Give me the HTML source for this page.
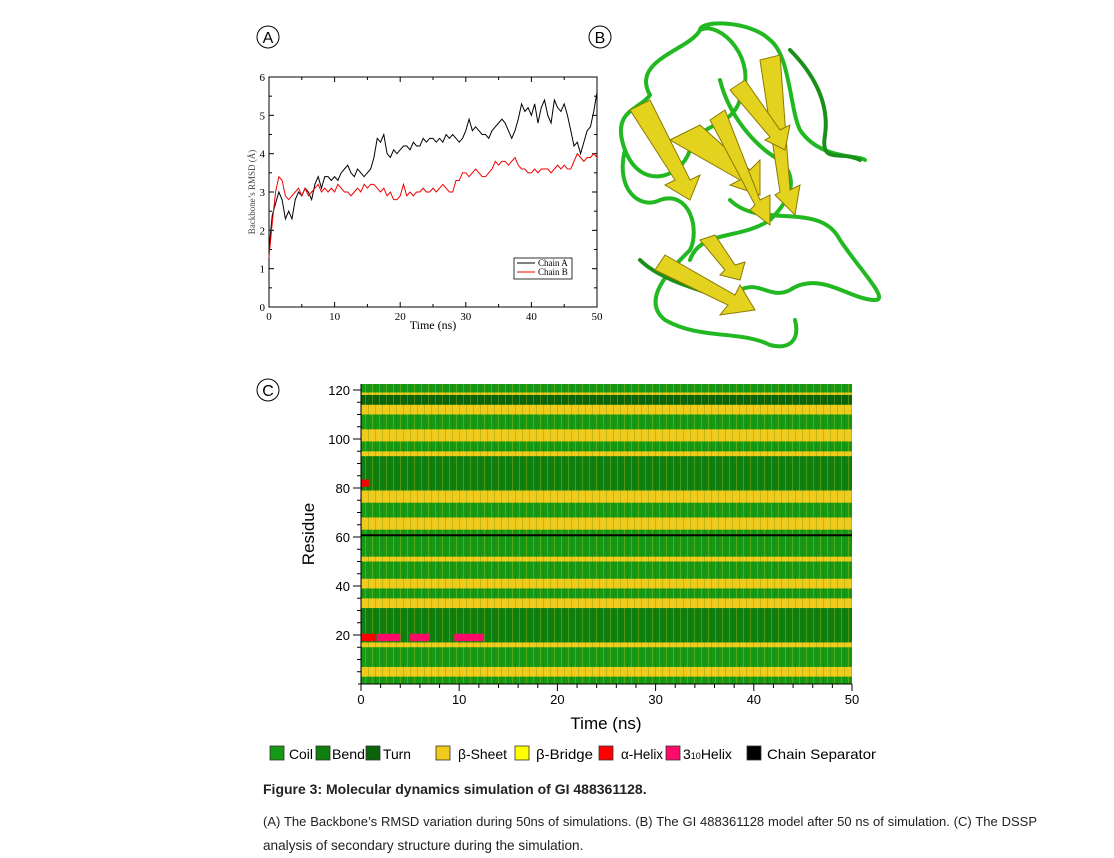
<!DOCTYPE html>
<html><head><meta charset="utf-8">
<style>
body{margin:0;background:#fff;width:1114px;height:856px;overflow:hidden;font-family:"Liberation Sans",Arial,sans-serif;}
svg{position:absolute;left:0;top:0}
.cap{position:absolute;left:263px;font-size:14px;color:#222}
</style></head><body>
<svg width="1114" height="856">
<defs>
<pattern id="tex" width="7" height="5" patternUnits="userSpaceOnUse">
<rect x="1" y="0" width="1" height="5" fill="#e8d020" opacity="0.3"/>
<rect x="4" y="0" width="1" height="5" fill="#0a6a0a" opacity="0.2"/>
</pattern>
</defs>
<g id="labels">
<circle cx="268" cy="37" r="11" fill="#fff" stroke="#000"/><text x="268" y="43" font-size="16" text-anchor="middle">A</text>
<circle cx="600" cy="37" r="11" fill="#fff" stroke="#000"/><text x="600" y="43" font-size="16" text-anchor="middle">B</text>
<circle cx="268" cy="390" r="11" fill="#fff" stroke="#000"/><text x="268" y="396" font-size="16" text-anchor="middle">C</text>
</g>
<g id="chartA"></g>
<g id="protein" fill="none" stroke-linecap="round" stroke-linejoin="round">
<path d="M650 95 C630 60 690 50 700 30 C720 20 760 60 740 100 C730 130 700 120 690 150 C680 180 640 190 625 150 C610 110 640 110 650 95" stroke="#22b822" stroke-width="4"/>
<path d="M700 30 C700 20 750 20 770 40 C790 55 790 110 800 130 C820 160 860 155 865 160" stroke="#22b822" stroke-width="4"/>
<path d="M625 150 C615 190 640 210 660 200 C690 190 700 230 690 250 C670 270 640 300 665 320 C700 340 740 330 770 345 C790 350 800 340 795 320" stroke="#22b822" stroke-width="4"/>
<path d="M730 200 C760 230 820 200 840 240 C860 270 890 300 875 300 C850 300 820 270 790 290 C770 300 760 280 740 290" stroke="#22b822" stroke-width="4"/>
<path d="M720 80 C730 120 760 150 780 160 C800 180 790 200 770 220 C740 240 700 230 690 260" stroke="#22b822" stroke-width="4"/>
<path d="M860 160 C840 150 820 165 825 135 C830 100 810 70 790 50" stroke="#1a8f1a" stroke-width="4"/>
<path d="M640 260 C660 280 700 290 730 300" stroke="#1a8f1a" stroke-width="4"/>
</g>
<g fill="#e3d21e" stroke="#8a7a00" stroke-width="1">
<polygon points="630,110 650,100 690,180 700,175 690,200 665,185 675,180"/>
<polygon points="670,140 700,125 750,170 760,160 760,195 730,185 740,180"/>
<polygon points="710,120 725,110 760,200 770,195 770,225 750,210 755,205"/>
<polygon points="760,60 780,55 790,190 800,185 795,215 775,195 780,192"/>
<polygon points="730,90 745,80 780,130 790,125 785,150 765,140 770,137"/>
<polygon points="655,270 665,255 735,295 740,285 755,310 720,315 728,305"/>
<polygon points="700,240 715,235 735,265 745,262 740,280 720,275 725,270"/>
</g>
<g id="chartC"></g>
<g id="legend" font-size="14"></g>
</svg>
<div class="cap" style="top:781px;font-weight:bold">Figure 3: Molecular dynamics simulation of GI 488361128.</div>
<div class="cap" style="top:810px;width:774px;text-align:justify;text-align-last:justify;line-height:24px;font-size:13px;white-space:nowrap">(A) The Backbone’s RMSD variation during 50ns of simulations. (B) The GI 488361128 model after 50 ns of simulation. (C) The DSSP</div>
<div class="cap" style="top:834px;line-height:24px;font-size:13.6px">analysis of secondary structure during the simulation.</div>
<script>
const NS="http://www.w3.org/2000/svg";
const rmsdA=[1.5,2.4,2.7,3.0,2.8,2.3,2.5,2.3,2.8,3.0,2.9,3.1,3.0,2.8,3.2,3.4,3.1,3.4,3.4,3.3,3.4,3.3,3.5,3.6,3.7,3.5,3.4,3.6,3.5,3.4,3.5,3.6,3.9,4.4,4.3,4.5,4.0,3.9,4.1,4.0,4.1,4.2,4.2,4.1,4.3,4.2,4.2,4.4,4.3,4.4,4.4,4.3,4.4,4.3,4.5,4.4,4.5,4.4,4.3,4.4,4.6,4.9,4.6,4.7,4.6,4.5,4.5,4.4,4.6,4.7,4.8,4.9,4.8,4.6,4.4,4.6,4.9,5.3,5.1,5.2,5.0,5.3,4.8,5.2,5.4,5.0,4.8,5.4,5.2,5.1,5.3,5.0,4.6,4.2,4.3,4.0,4.3,4.6,4.7,5.1,5.6];
const rmsdB=[1.3,2.2,3.0,3.4,3.3,2.9,2.8,2.9,3.0,3.1,2.9,3.1,2.9,3.0,3.1,3.2,3.0,3.1,3.0,3.1,3.0,3.2,3.1,3.0,3.0,2.9,3.0,3.1,3.0,3.2,3.1,3.2,3.2,3.1,3.0,3.1,2.9,3.0,2.8,2.8,2.9,3.2,2.9,3.0,2.9,3.0,3.0,3.1,3.0,3.0,3.1,3.0,3.1,3.2,3.1,3.0,3.0,3.3,3.3,3.5,3.5,3.4,3.5,3.6,3.5,3.4,3.4,3.5,3.6,3.8,3.7,3.8,3.8,3.7,3.8,3.9,3.7,3.6,3.6,3.5,3.5,3.6,3.5,3.6,3.6,3.6,3.5,3.6,3.7,3.6,3.7,3.6,3.6,3.8,4.0,3.9,3.8,3.9,3.9,4.0,3.9];
const xTicksA=[0,10,20,30,40,50];
const yTicksA=[0,1,2,3,4,5,6];
function el(p,tag,attrs){const e=document.createElementNS(NS,tag);for(const k in attrs)e.setAttribute(k,attrs[k]);p.appendChild(e);return e;}
const A=document.getElementById('chartA');
const axL=269,axR=597,axT=77,axB=307;
const xA=t=>axL+t/50*(axR-axL), yA=v=>axB-v/6*(axB-axT);
let f=el(A,'rect',{x:axL,y:axT,width:axR-axL,height:axB-axT,fill:'none',stroke:'#000','stroke-width':1});


xTicksA.forEach(t=>{el(A,'line',{x1:xA(t),x2:xA(t),y1:axB,y2:axB-5,stroke:'#000'});el(A,'line',{x1:xA(t),x2:xA(t),y1:axT,y2:axT+5,stroke:'#000'});
 const tx=el(A,'text',{x:xA(t),y:axB+13,'font-size':11,'text-anchor':'middle','font-family':'Liberation Serif'});tx.textContent=t;
 
 });
for(let t=5;t<50;t+=10){el(A,'line',{x1:xA(t),x2:xA(t),y1:axB,y2:axB-3,stroke:'#000'});el(A,'line',{x1:xA(t),x2:xA(t),y1:axT,y2:axT+3,stroke:'#000'});}
yTicksA.forEach(v=>{el(A,'line',{x1:axL,x2:axL+5,y1:yA(v),y2:yA(v),stroke:'#000'});el(A,'line',{x1:axR,x2:axR-5,y1:yA(v),y2:yA(v),stroke:'#000'});
 const tx=el(A,'text',{x:axL-4,y:yA(v)+4,'font-size':11,'text-anchor':'end','font-family':'Liberation Serif'});tx.textContent=v;
 
 
 if(v<6){el(A,'line',{x1:axL,x2:axL+3,y1:yA(v+0.5),y2:yA(v+0.5),stroke:'#000'});el(A,'line',{x1:axR,x2:axR-3,y1:yA(v+0.5),y2:yA(v+0.5),stroke:'#000'});}});
let xt=el(A,'text',{x:433,y:329,'font-size':12,'text-anchor':'middle','font-family':'Liberation Serif'});xt.textContent='Time (ns)';


let yt=el(A,'text',{x:0,y:0,'font-size':9,'text-anchor':'middle','font-family':'Liberation Serif',transform:'translate(255,192) rotate(-90)',fill:'#444'});yt.textContent='Backbone’s RMSD (Å)';


[[rmsdA,'#000','series-chain-a'],[rmsdB,'#e00','series-chain-b']].forEach(([d,c,n])=>{
 const p=el(A,'polyline',{points:d.map((v,i)=>xA(i*0.5)+','+yA(v)).join(' '),fill:'none',stroke:c,'stroke-width':1});
 
 });
let lg=el(A,'rect',{x:514,y:258,width:58,height:21,fill:'#fff',stroke:'#000','stroke-width':0.8});


[['Chain A','#000',266],['Chain B','#e00',275]].forEach(([t,c,y])=>{el(A,'line',{x1:517,x2:535,y1:y-3,y2:y-3,stroke:c});const tx=el(A,'text',{x:538,y:y,'font-size':9,'font-family':'Liberation Serif'});tx.textContent=t;
 
 });
// Chart C
const bandStart=[0,3,7,15,17,31,35,39,43,50,52,61,63,68,74,79,93,95,99,104,110,114,118,119];
const bandEnd=[3,7,15,17,31,35,39,43,50,52,60,63,68,74,79,93,95,99,104,110,114,118,119,122];
const bandType=['coil','sheet','coil','sheet','bend','sheet','coil','sheet','coil','sheet','coil','coil','sheet','coil','sheet','bend','sheet','coil','sheet','coil','sheet','turn','sheet','coil'];
const helixRes=[19,19,19,19,82];
const helixT0=[0,1.6,5,9.5,0];
const helixT1=[1.5,4,7,12.5,0.8];
const helixType=['alpha','h310','h310','h310','alpha'];
const sepRes=60.7;
const xTicksC=[0,10,20,30,40,50];
const yTicksC=[20,40,60,80,100,120];
const col={coil:'#169a16',bend:'#0f7f0f',turn:'#0a650a',sheet:'#f1cb1c',bridge:'#ffff00',alpha:'#ff0000',h310:'#ff0a6a',sep:'#000'};
const C=document.getElementById('chartC');
const cL=361,cR=852,cT=384,cB=684;
const xC=t=>cL+t/50*(cR-cL), yC=r=>cB-r*2.45;
el(C,'rect',{x:cL,y:cT,width:cR-cL,height:cB-cT,fill:col.coil});
bandStart.forEach((s,i)=>{const r=el(C,'rect',{x:cL,y:yC(bandEnd[i]),width:cR-cL,height:yC(s)-yC(bandEnd[i]),fill:col[bandType[i]]});
 
 });
el(C,'rect',{x:cL,y:cT,width:cR-cL,height:cB-cT,fill:'url(#tex)'});
helixRes.forEach((r,i)=>{const e=el(C,'rect',{x:xC(helixT0[i]),y:yC(r+1.5),width:xC(helixT1[i])-xC(helixT0[i]),height:2.45*3,fill:col[helixType[i]]});
 
 });
let sp=el(C,'line',{x1:cL,x2:cR,y1:yC(sepRes),y2:yC(sepRes),stroke:'#000','stroke-width':2});


el(C,'line',{x1:cL,x2:cL,y1:cT,y2:cB+3,stroke:'#000'});
el(C,'line',{x1:cL-3,x2:cR,y1:cB,y2:cB,stroke:'#000'});
for(let t=0;t<=50;t+=2){el(C,'line',{x1:xC(t),x2:xC(t),y1:cB,y2:cB+(t%10?4:7),stroke:'#000'});}
xTicksC.forEach(t=>{const tx=el(C,'text',{x:xC(t),y:cB+20,'font-size':13,'text-anchor':'middle'});tx.textContent=t;
 
 });
for(let r=5;r<=120;r+=5){el(C,'line',{x1:cL,x2:cL-(r%20?4:8),y1:yC(r),y2:yC(r),stroke:'#000'});}
yTicksC.forEach(r=>{const tx=el(C,'text',{x:cL-11,y:yC(r)+5,'font-size':13,'text-anchor':'end'});tx.textContent=r;
 
 });
let ct=el(C,'text',{x:606,y:729,'font-size':17,'text-anchor':'middle'});ct.textContent='Time (ns)';


let cy=el(C,'text',{x:0,y:0,'font-size':17,'text-anchor':'middle',transform:'translate(314,534) rotate(-90)'});cy.textContent='Residue';


// Legend
const L=document.getElementById('legend');
const legNames=['Coil','Bend','Turn','β-Sheet','β-Bridge','α-Helix','310Helix','Chain Separator'];
const legKeys=['coil','bend','turn','sheet','bridge','alpha','h310','sep'];
const legBox=[270,316,366,436,515,599,666,747];
const legText=[289,332,383,458,536,621,683,767];
const legLen=[24,33,28,49,57,42,62,109];
legNames.forEach((n,i)=>{const b=el(L,'rect',{x:legBox[i],y:746,width:14,height:14,fill:col[legKeys[i]],stroke:'#333','stroke-width':0.8});
 
 
 let t;
 if(legKeys[i]==='h310'){t=el(L,'text',{x:legText[i],y:759});t.innerHTML='3<tspan font-size="9">10</tspan>Helix';}
 else {t=el(L,'text',{x:legText[i],y:759,textLength:legLen[i],lengthAdjust:'spacingAndGlyphs'});t.textContent=n;}
 
 });
</script>
</body></html>
